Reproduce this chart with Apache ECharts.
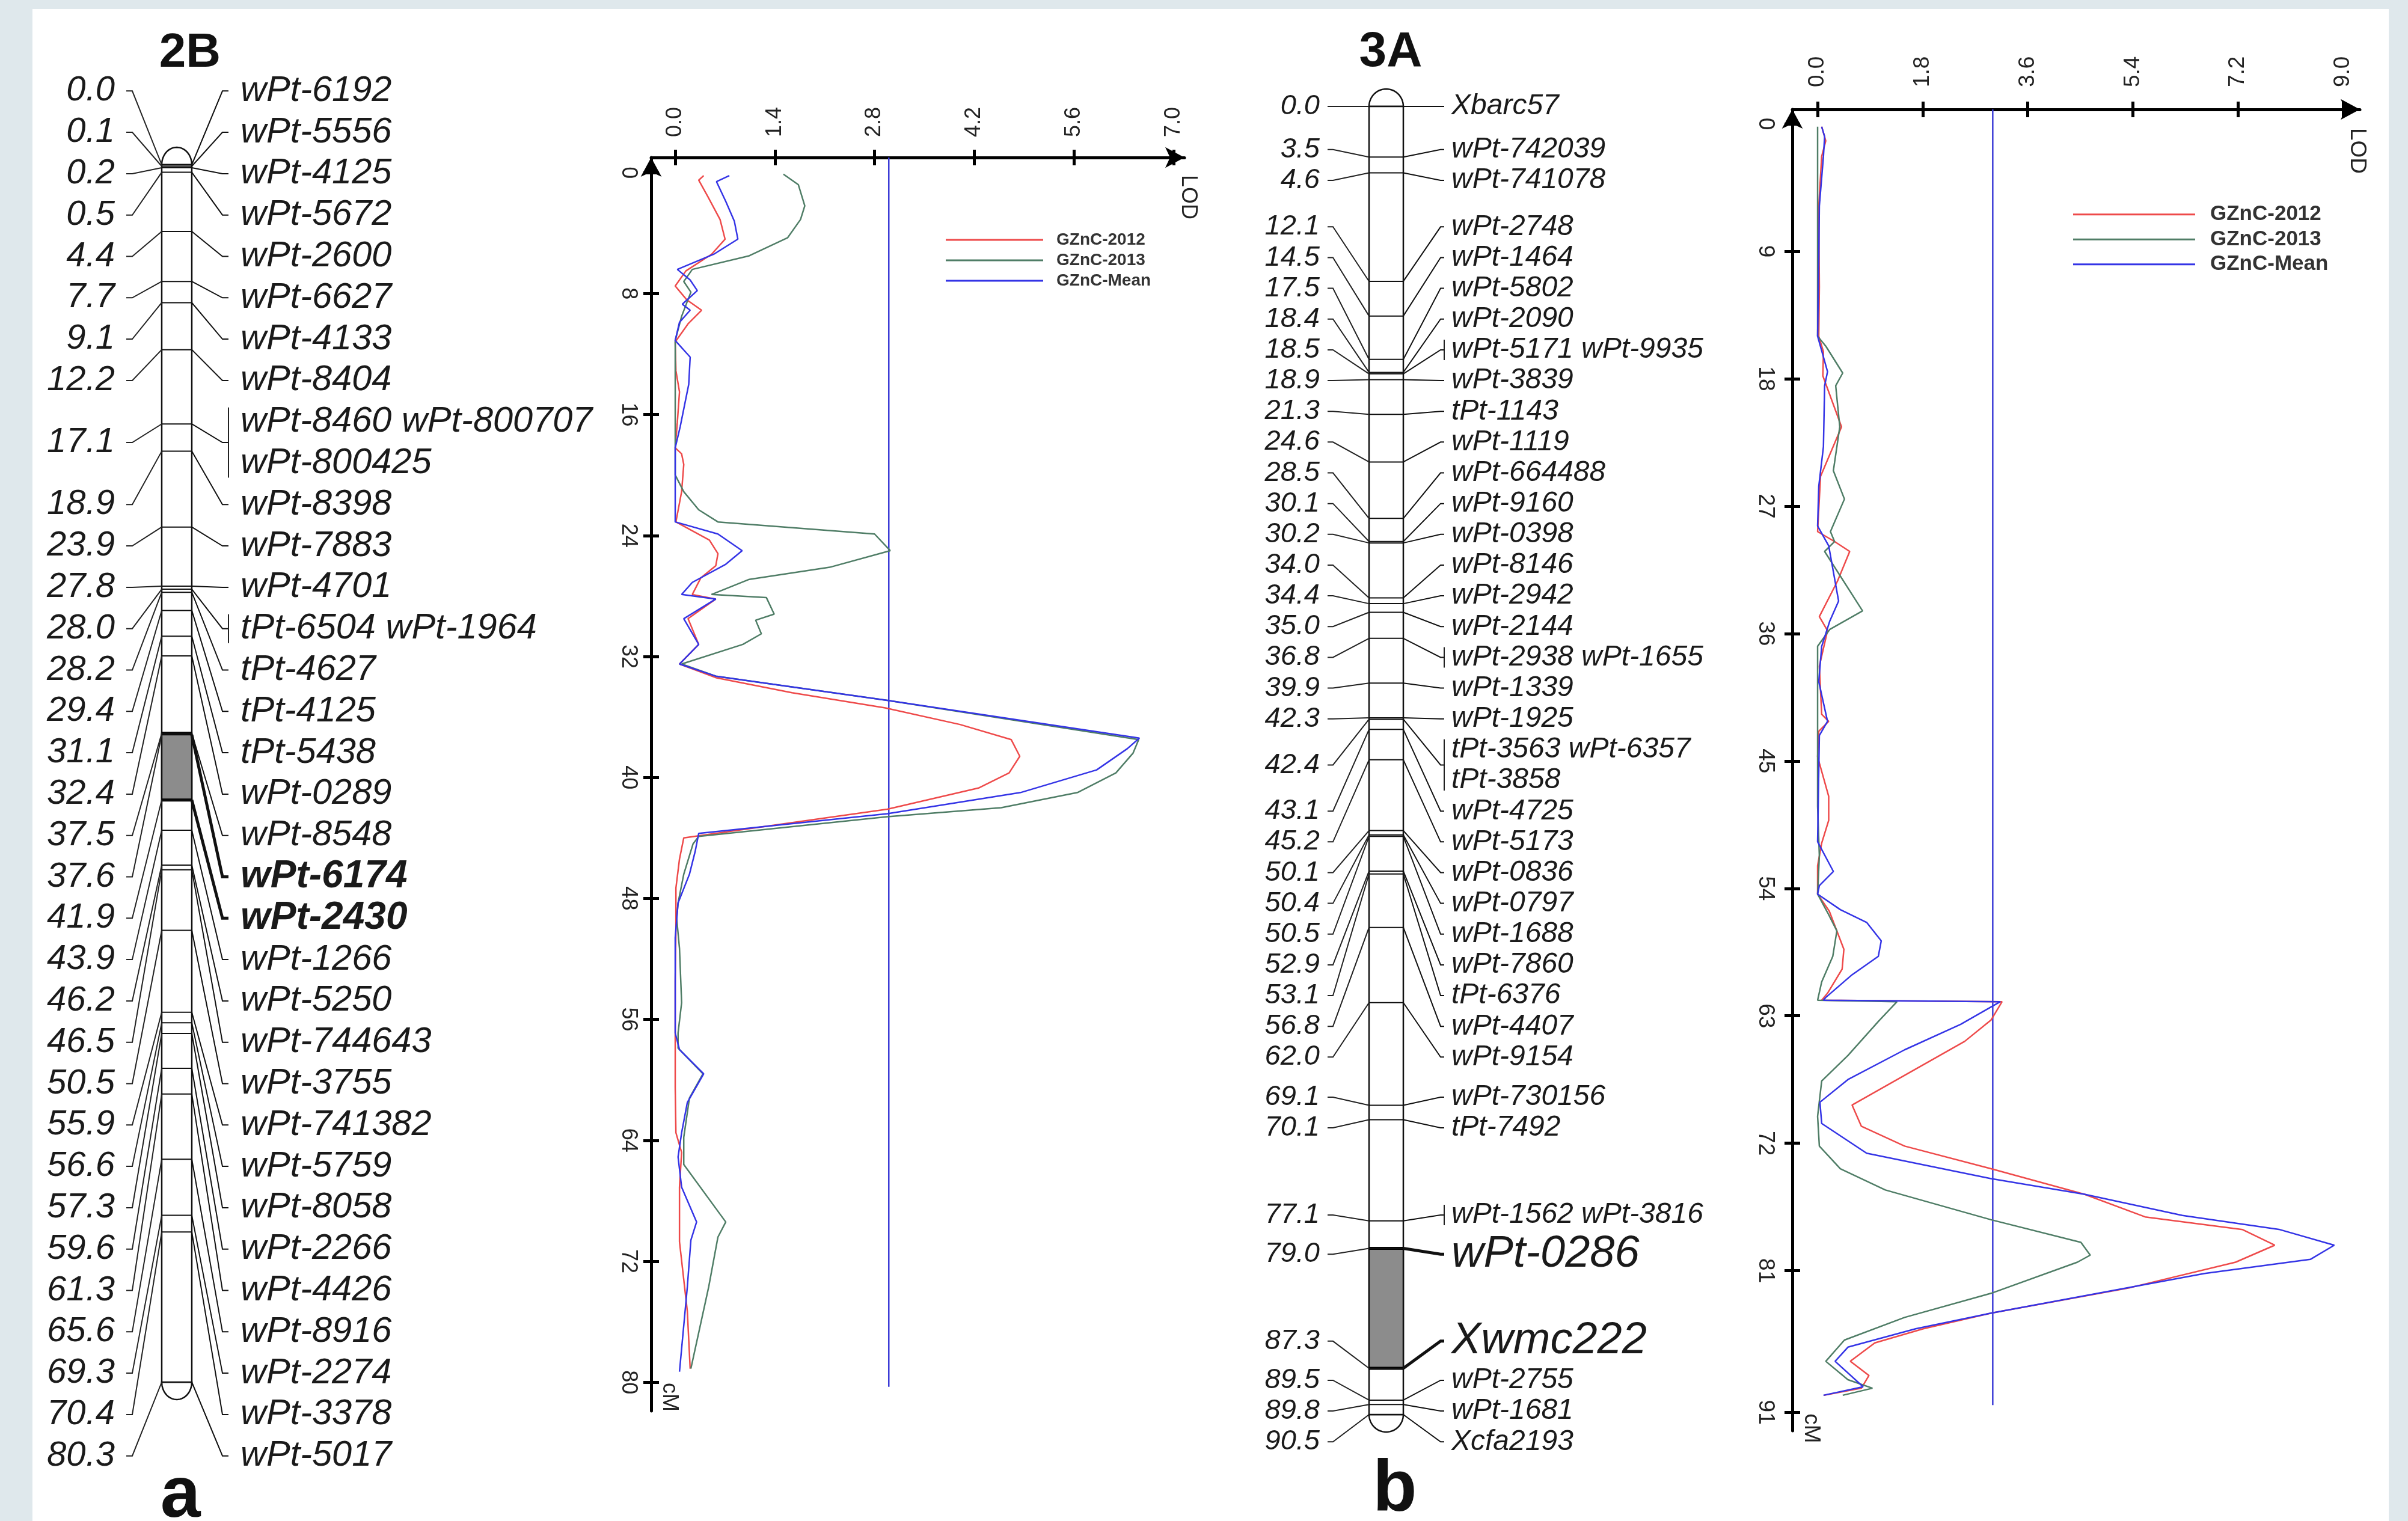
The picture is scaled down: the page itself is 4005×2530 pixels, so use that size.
<!DOCTYPE html>
<html>
<head>
<meta charset="utf-8">
<script src="https://cdn.jsdelivr.net/npm/echarts@6/dist/echarts.min.js"></script>
<style>
html, body { margin: 0; padding: 0; background: #dfe8ec; }
#panel { position: absolute; left: 54px; top: 15px; width: 3919px; height: 2515px; background: #fff; }
#main { position: absolute; left: 0; top: 0; width: 4005px; height: 2530px; }
</style>
</head>
<body>
<div id="panel"></div>
<div id="main"></div>
<script>
// ---- chromosome 2B (panel a) ----
const cm2B = [0.0, 0.1, 0.2, 0.5, 4.4, 7.7, 9.1, 12.2, 17.1, 18.9, 23.9, 27.8, 28.0, 28.2, 29.4, 31.1, 32.4,
  37.5, 37.6, 41.9, 43.9, 46.2, 46.5, 50.5, 55.9, 56.6, 57.3, 59.6, 61.3, 65.6, 69.3, 70.4, 80.3];
const names2B = [['wPt-6192'], ['wPt-5556'], ['wPt-4125'], ['wPt-5672'], ['wPt-2600'], ['wPt-6627'], ['wPt-4133'],
  ['wPt-8404'], ['wPt-8460 wPt-800707', 'wPt-800425'], ['wPt-8398'], ['wPt-7883'], ['wPt-4701'],
  ['tPt-6504 wPt-1964'], ['tPt-4627'], ['tPt-4125'], ['tPt-5438'], ['wPt-0289'], ['wPt-8548'], ['wPt-6174'],
  ['wPt-2430'], ['wPt-1266'], ['wPt-5250'], ['wPt-744643'], ['wPt-3755'], ['wPt-741382'], ['wPt-5759'],
  ['wPt-8058'], ['wPt-2266'], ['wPt-4426'], ['wPt-8916'], ['wPt-2274'], ['wPt-3378'], ['wPt-5017']];
const qtl2B = [37.5, 41.9];
const hi2B = ['wPt-6174', 'wPt-2430'];

// ---- chromosome 3A (panel b) ----
const cm3A = [0.0, 3.5, 4.6, 12.1, 14.5, 17.5, 18.4, 18.5, 18.9, 21.3, 24.6, 28.5, 30.1, 30.2, 34.0, 34.4, 35.0,
  36.8, 39.9, 42.3, 42.4, 43.1, 45.2, 50.1, 50.4, 50.5, 52.9, 53.1, 56.8, 62.0, 69.1, 70.1, 77.1, 79.0, 87.3,
  89.5, 89.8, 90.5];
const names3A = [['Xbarc57'], ['wPt-742039'], ['wPt-741078'], ['wPt-2748'], ['wPt-1464'], ['wPt-5802'],
  ['wPt-2090'], ['wPt-5171 wPt-9935'], ['wPt-3839'], ['tPt-1143'], ['wPt-1119'], ['wPt-664488'], ['wPt-9160'],
  ['wPt-0398'], ['wPt-8146'], ['wPt-2942'], ['wPt-2144'], ['wPt-2938 wPt-1655'], ['wPt-1339'], ['wPt-1925'],
  ['tPt-3563 wPt-6357', 'tPt-3858'], ['wPt-4725'], ['wPt-5173'], ['wPt-0836'], ['wPt-0797'], ['wPt-1688'],
  ['wPt-7860'], ['tPt-6376'], ['wPt-4407'], ['wPt-9154'], ['wPt-730156'], ['tPt-7492'], ['wPt-1562 wPt-3816'],
  ['wPt-0286'], ['Xwmc222'], ['wPt-2755'], ['wPt-1681'], ['Xcfa2193']];
const qtl3A = [79.0, 87.3];
const hi3A = ['wPt-0286', 'Xwmc222'];

// ---- LOD profiles, [cM, LOD] ----
const seriesNames = ['GZnC-2012', 'GZnC-2013', 'GZnC-Mean'];
const threshold = 3.0;

const lodA2012 = [[0.2,0.40],[0.5,0.33],[1.6,0.46],[3.1,0.63],[4.4,0.70],[5.4,0.51],[6.5,0.15],[7.5,0.0],[8.4,0.16],
  [9.1,0.37],[10.0,0.18],[11.2,0.0],[13.1,0.01],[14.5,0.06],[16.5,0.03],[18.2,0.0],[18.6,0.09],[19.3,0.12],[21.1,0.09],
  [23.1,0.01],[24.3,0.48],[25.2,0.60],[26.0,0.57],[26.8,0.36],[27.9,0.24],[28.2,0.57],[29.5,0.18],[31.2,0.33],[32.5,0.06],
  [33.4,0.57],[34.4,1.64],[35.4,2.95],[36.5,4.00],[37.5,4.72],[38.6,4.84],[39.7,4.69],[40.7,4.26],[42.1,2.98],[44.0,0.12],
  [45.4,0.06],[47.3,0.01],[50.0,0.01],[53.5,0.0],[57.2,0.0],[60.5,0.0],[63.5,0.01],[64.8,0.09],[67.1,0.06],[70.7,0.06],
  [75.3,0.17],[79.1,0.21]];
const lodA2013 = [[0.1,1.52],[0.8,1.73],[2.2,1.82],[3.1,1.76],[4.3,1.58],[5.5,1.04],[6.4,0.24],[7.2,0.12],[7.9,0.22],
  [9.5,0.09],[11.1,0.0],[20.0,0.0],[21.1,0.12],[22.3,0.33],[23.1,0.60],[23.9,2.80],[25.0,3.02],[26.1,2.17],[26.9,1.04],
  [27.9,0.51],[28.1,1.28],[29.2,1.39],[29.6,1.13],[30.5,1.21],[31.2,0.95],[32.5,0.09],[33.3,0.57],[34.9,2.98],[37.5,6.51],
  [38.4,6.43],[39.7,6.19],[41.0,5.65],[42.0,4.58],[42.6,2.98],[43.9,0.33],[44.4,0.25],[46.4,0.12],[48.3,0.04],[49.3,0.02],
  [51.3,0.06],[54.9,0.09],[56.9,0.04],[57.9,0.04],[59.6,0.39],[61.2,0.20],[63.8,0.12],[65.6,0.12],[69.4,0.71],[70.4,0.60],
  [73.7,0.47],[79.1,0.22]];
const lodAMean = [[0.2,0.76],[0.6,0.58],[1.9,0.71],[3.2,0.83],[4.4,0.88],[5.4,0.54],[6.4,0.03],[7.1,0.21],[7.8,0.31],
  [8.7,0.10],[9.1,0.21],[9.9,0.06],[11.1,0.0],[12.2,0.21],[14.0,0.19],[16.8,0.07],[18.2,0.0],[23.1,0.0],[23.9,0.60],
  [25.0,0.94],[25.9,0.71],[27.1,0.24],[27.9,0.09],[28.2,0.57],[29.5,0.12],[31.2,0.33],[32.5,0.06],[33.3,0.57],[34.9,2.98],
  [37.4,6.52],[38.1,6.35],[39.5,5.92],[41.0,4.85],[42.4,2.98],[43.7,0.33],[44.9,0.28],[46.4,0.20],[48.3,0.04],[50.6,0.0],
  [56.9,0.0],[58.0,0.06],[59.6,0.40],[61.5,0.17],[63.5,0.09],[65.1,0.04],[67.1,0.09],[69.4,0.30],[70.6,0.22],[73.7,0.17],
  [79.3,0.06]];

const lodB2012 = [[0.2,0.07],[1.2,0.14],[2.3,0.07],[5.8,0.02],[11.5,0.03],[15.0,0.02],[16.1,0.10],[17.8,0.09],[21.4,0.41],
  [24.9,0.05],[28.8,0.0],[29.5,0.29],[30.2,0.55],[32.3,0.34],[34.8,0.03],[35.8,0.17],[38.3,0.03],[41.7,0.07],[42.2,0.19],
  [42.9,0.02],[44.7,0.0],[47.5,0.19],[49.2,0.19],[50.8,0.07],[52.4,0.0],[54.4,0.0],[55.6,0.20],[58.3,0.45],[59.7,0.42],
  [61.4,0.17],[61.9,0.07],[62.0,3.16],[63.3,2.97],[64.8,2.52],[69.3,0.59],[70.8,0.75],[72.2,1.49],[73.8,2.97],[75.6,4.57],
  [77.2,5.61],[78.1,7.28],[79.2,7.83],[80.4,7.16],[82.2,5.35],[84.0,2.97],[85.1,1.81],[86.1,0.98],[87.4,0.56],[88.4,0.88],
  [89.3,0.75],[89.8,0.11]];
const lodB2013 = [[0.2,0.0],[15.0,0.0],[15.7,0.14],[17.6,0.43],[18.5,0.31],[21.4,0.38],[24.5,0.27],[26.5,0.46],[28.8,0.22],
  [29.5,0.29],[30.2,0.12],[34.4,0.77],[35.7,0.21],[36.9,0.0],[48.2,0.0],[51.7,0.03],[54.4,0.0],[55.7,0.17],[57.0,0.33],
  [58.8,0.26],[60.6,0.07],[61.9,0.0],[62.0,1.36],[63.4,1.04],[65.8,0.52],[67.6,0.07],[70.1,0.0],[72.2,0.03],[73.8,0.39],
  [75.3,1.16],[77.4,2.97],[79.0,4.51],[79.9,4.67],[80.4,4.45],[82.6,2.97],[84.3,1.49],[85.9,0.46],[87.4,0.14],[88.7,0.52],
  [89.3,0.94],[89.8,0.43]];
const lodBMean = [[0.2,0.07],[0.9,0.12],[2.3,0.10],[5.8,0.03],[9.4,0.02],[15.0,0.0],[17.5,0.17],[18.5,0.12],[22.8,0.10],
  [25.6,0.02],[28.4,0.0],[29.8,0.19],[33.7,0.36],[35.1,0.21],[36.9,0.07],[39.4,0.02],[42.2,0.17],[43.2,0.03],[50.7,0.0],
  [52.8,0.27],[53.8,0.03],[54.4,0.0],[55.5,0.39],[56.4,0.84],[57.7,1.09],[58.8,1.04],[60.1,0.59],[61.7,0.14],[61.9,0.10],
  [62.0,3.13],[63.6,2.45],[65.4,1.49],[67.5,0.52],[69.1,0.04],[70.6,0.07],[72.7,0.84],[74.5,2.97],[75.6,4.57],[77.1,6.25],
  [78.1,7.92],[79.2,8.85],[80.2,8.44],[81.2,6.63],[84.0,2.97],[85.1,1.68],[86.4,0.52],[87.4,0.30],[89.2,0.78],[89.8,0.10]];

const lodTicksA = [0, 1.4, 2.8, 4.2, 5.6, 7.0];
const cmTicksA = [0, 8, 16, 24, 32, 40, 48, 56, 64, 72, 80];
const lodTicksB = [0, 1.8, 3.6, 5.4, 7.2, 9.0];
const cmTicksB = [0, 9, 18, 27, 36, 45, 54, 63, 72, 81, 91];
const chromLenA = 80.3, chromLenB = 90.5;

// ---- styles ----
const FONT = '"Liberation Sans", Arial, sans-serif';
const colors = ['#ee4a4a', '#4f7d66', '#3434e6'];
const threshColor = '#3b3bd6';

const map2B = { lineH: 68.8, hiH: 68.8, font: 'italic 59.5px ' + FONT, numFont: 'italic 58px ' + FONT,
  hiFont: 'bold italic 64px ' + FONT, numGap: 78, stubA: 59, stubB: 49, rDiag: 51, rStub: 61, labGap: 81,
  brk: 24, capH: 29 };
const map3A = { lineH: 51.15, hiH: 79, font: 'italic 48px ' + FONT, numFont: 'italic 47px ' + FONT,
  hiFont: 'italic 74px ' + FONT, numGap: 82, stubA: 69, stubB: 60, rDiag: 62, rStub: 68, labGap: 80,
  brk: 17, capH: 29 };

// spread label rows so they do not overlap; clusters are centred on the span of their markers,
// overlaps are resolved from the bottom of the map upwards
function spread(desired, heights) {
  const pos = b => {
    let span = 0;
    for (let k = b.s; k < b.e; k++) span += (heights[k] + heights[k + 1]) / 2;
    b.first = (desired[b.s] + desired[b.e]) / 2 - span / 2;
    b.last = b.first + span;
    return b;
  };
  let blocks = desired.map((d, i) => pos({ s: i, e: i }));
  let again = true;
  while (again) {
    again = false;
    for (let j = blocks.length - 2; j >= 0; j--) {
      const a = blocks[j], b = blocks[j + 1];
      if (a.last + (heights[a.e] + heights[b.s]) / 2 > b.first + 0.01) {
        blocks.splice(j, 2, pos({ s: a.s, e: b.e }));
        again = true;
        break;
      }
    }
  }
  const ys = [];
  blocks.forEach(b => {
    let y = b.first;
    for (let k = b.s; k <= b.e; k++) {
      if (k > b.s) y += (heights[k - 1] + heights[k]) / 2;
      ys[k] = y;
    }
  });
  return ys;
}

function bodySeries(cfg, axisIdx, len, qtl) {
  return {
    type: 'custom', xAxisIndex: axisIdx, yAxisIndex: axisIdx, z: 3, silent: true, clip: false,
    data: [[0, len, qtl[0], qtl[1]]],
    renderItem: function (params, api) {
      const p0 = api.coord([0, api.value(0)]);
      const p1 = api.coord([1, api.value(1)]);
      const q0 = api.coord([0, api.value(2)])[1];
      const q1 = api.coord([0, api.value(3)])[1];
      const xL = p0[0], xR = p1[0], yT = p0[1], yB = p1[1];
      const cx = (xL + xR) / 2, rx = (xR - xL) / 2;
      const cap = (y, dir) => {
        const pts = [];
        for (let k = 0; k <= 30; k++) {
          const t = Math.PI * k / 30;
          pts.push([cx + rx * Math.cos(t), y + dir * cfg.capH * Math.sin(t)]);
        }
        return pts;
      };
      const st = { fill: '#fff', stroke: '#111', lineWidth: 2.5 };
      return { type: 'group', children: [
        { type: 'polygon', shape: { points: cap(yT, -1) }, style: st },
        { type: 'polygon', shape: { points: cap(yB, 1) }, style: st },
        { type: 'rect', shape: { x: xL, y: yT, width: xR - xL, height: yB - yT }, style: st },
        { type: 'rect', shape: { x: xL, y: q0, width: xR - xL, height: q1 - q0 },
          style: { fill: '#8c8c8c', stroke: '#111', lineWidth: 2.5 } },
        { type: 'line', shape: { x1: xL, y1: q0, x2: xR, y2: q0 }, style: { stroke: '#000', lineWidth: 5 } },
        { type: 'line', shape: { x1: xL, y1: q1, x2: xR, y2: q1 }, style: { stroke: '#000', lineWidth: 5 } }
      ] };
    }
  };
}

function markerSeries(cms, names, hi, cfg, axisIdx) {
  let ys = null, yMs = null;
  const isHi = k => names[k].some(s => hi.indexOf(s) >= 0);
  return {
    type: 'custom', xAxisIndex: axisIdx, yAxisIndex: axisIdx, z: 4, silent: true, clip: false,
    data: cms.map((c, i) => [0, c, i]),
    renderItem: function (params, api) {
      const i = api.value(2);
      if (i === 0 || !ys) {
        yMs = cms.map(c => api.coord([0, c])[1]);
        const hs = names.map((n, k) => isHi(k) ? cfg.hiH : n.length * cfg.lineH);
        ys = spread(yMs, hs);
      }
      const xL = api.coord([0, 0])[0], xR = api.coord([1, 0])[0];
      const yM = yMs[i], yL = ys[i], h = isHi(i);
      const n = names[i].length;
      const multi = n > 1 || names[i][0].indexOf(' ') >= 0;
      const kids = [
        { type: 'line', shape: { x1: xL, y1: yM, x2: xR, y2: yM }, style: { stroke: '#111', lineWidth: 2 } },
        { type: 'polyline', shape: { points: [[xL - cfg.stubA, yL], [xL - cfg.stubB, yL], [xL, yM]] },
          style: { stroke: '#222', lineWidth: 2, fill: null } },
        { type: 'text', x: xL - cfg.numGap, y: yL,
          style: { text: cms[i].toFixed(1), font: cfg.numFont, fill: '#1a1a1a', align: 'right', verticalAlign: 'middle' } },
        { type: 'polyline', shape: { points: [[xR, yM], [xR + cfg.rDiag, yL], [xR + cfg.rStub, yL]] },
          style: { stroke: '#111', lineWidth: h ? 5 : 2, fill: null } }
      ];
      if (multi) {
        const half = (n - 1) / 2 * cfg.lineH + cfg.brk;
        kids.push({ type: 'line', shape: { x1: xR + cfg.rStub, y1: yL - half, x2: xR + cfg.rStub, y2: yL + half },
          style: { stroke: '#222', lineWidth: 2 } });
      }
      names[i].forEach((s, k) => {
        kids.push({ type: 'text', x: xR + cfg.labGap, y: yL + (k - (n - 1) / 2) * cfg.lineH,
          style: { text: s, font: h ? cfg.hiFont : cfg.font, fill: '#1a1a1a', align: 'left', verticalAlign: 'middle' } });
      });
      return { type: 'group', children: kids };
    }
  };
}

function lodAxes(grid, min, max, ticks, fs, margin) {
  const tickStyle = { color: '#000', width: 5 };
  return [
    { gridIndex: grid, type: 'value', position: 'top', min: min, max: max,
      axisLine: { show: true, onZero: false, lineStyle: { color: '#000', width: 5 },
        symbol: ['none', 'arrow'], symbolSize: [26, 32] },
      axisTick: { show: true, customValues: ticks, length: 13, lineStyle: tickStyle },
      axisLabel: { show: true, customValues: ticks, interval: 0, rotate: -90, margin: margin, fontSize: fs,
        fontFamily: FONT, color: '#222', formatter: v => v.toFixed(1) },
      splitLine: { show: false } },
    { gridIndex: grid, type: 'value', position: 'top', min: min, max: max,
      axisLine: { show: false, onZero: false },
      axisTick: { show: true, inside: true, customValues: ticks, length: 13, lineStyle: tickStyle },
      axisLabel: { show: false }, splitLine: { show: false } }
  ];
}
function cmAxes(grid, min, max, ticks, fs, margin) {
  const tickStyle = { color: '#000', width: 5 };
  return [
    { gridIndex: grid, type: 'value', position: 'left', inverse: true, min: min, max: max,
      axisLine: { show: true, onZero: false, lineStyle: { color: '#000', width: 5 },
        symbol: ['none', 'arrow'], symbolSize: [26, 32] },
      axisTick: { show: true, customValues: ticks, length: 13, lineStyle: tickStyle },
      axisLabel: { show: true, customValues: ticks, interval: 0, rotate: -90, margin: margin, fontSize: fs,
        fontFamily: FONT, color: '#222' },
      splitLine: { show: false } },
    { gridIndex: grid, type: 'value', position: 'left', inverse: true, min: min, max: max,
      axisLine: { show: false, onZero: false },
      axisTick: { show: true, inside: true, customValues: ticks, length: 13, lineStyle: tickStyle },
      axisLabel: { show: false }, splitLine: { show: false } }
  ];
}
const hidden = (grid, min, max, inv) => ({ gridIndex: grid, type: 'value', min: min, max: max, inverse: !!inv, show: false });

function lodSeries(name, data, color, axisIdx) {
  return { name: name, type: 'line', xAxisIndex: axisIdx, yAxisIndex: axisIdx, symbol: 'none', z: 5,
    data: data.map(p => [p[1], p[0]]), lineStyle: { color: color, width: 2.5 }, itemStyle: { color: color } };
}
function threshSeries(axisIdx, top, len) {
  return { name: 'threshold', type: 'line', xAxisIndex: axisIdx, yAxisIndex: axisIdx, symbol: 'none', z: 4,
    data: [[threshold, top], [threshold, len]], lineStyle: { color: threshColor, width: 2.5 } };
}

const chart = echarts.init(document.getElementById('main'), null, { renderer: 'canvas' });
const txt = (x, y, text, font, rot, color) => ({ type: 'text', x: x, y: y, rotation: rot || 0, z: 10,
  style: { text: text, font: font, fill: color || '#111', align: 'center', verticalAlign: 'middle' } });

chart.setOption({
  animation: false,
  backgroundColor: 'transparent',
  color: colors,
  grid: [
    { left: 1083, top: 262, width: 887, height: 2085 },
    { left: 2981, top: 182, width: 944, height: 2198 },
    { left: 269, top: 274, width: 50, height: 2025 },
    { left: 2277, top: 177, width: 57, height: 2176 }
  ],
  xAxis: [].concat(
    lodAxes(0, -0.338, 7.153, lodTicksA, 36, 34),
    lodAxes(1, -0.433, 9.289, lodTicksB, 37, 37),
    [hidden(2, 0, 1), hidden(3, 0, 1)]
  ),
  yAxis: [].concat(
    cmAxes(0, -1.0, 81.9, cmTicksA, 36, 20),
    cmAxes(1, -1.02, 92.31, cmTicksB, 37, 26),
    [hidden(2, 0, chromLenA, true), hidden(3, 0, chromLenB, true)]
  ),
  legend: [
    { data: seriesNames, orient: 'vertical', left: 1568, top: 377, itemWidth: 162, itemHeight: 3, itemGap: 0,
      icon: 'rect', selectedMode: false,
      textStyle: { fontFamily: FONT, fontSize: 28, fontWeight: 'bold', color: '#333', lineHeight: 34, padding: [0, 0, 0, 17] } },
    { data: seriesNames, orient: 'vertical', left: 3443, top: 331, itemWidth: 203, itemHeight: 3, itemGap: 0,
      icon: 'rect', selectedMode: false,
      textStyle: { fontFamily: FONT, fontSize: 35, fontWeight: 'bold', color: '#333', lineHeight: 41.5, padding: [0, 0, 0, 20] } }
  ],
  graphic: [
    txt(316, 89, '2B', 'bold 80px ' + FONT),
    txt(2313, 87, '3A', 'bold 82px ' + FONT),
    txt(300, 2490, 'a', 'bold 120px ' + FONT),
    txt(2320, 2480, 'b', 'bold 120px ' + FONT),
    txt(1976, 328, 'LOD', '36px ' + FONT, -Math.PI / 2, '#222'),
    txt(1113, 2324, 'cM', '36px ' + FONT, -Math.PI / 2, '#222'),
    txt(3920, 251, 'LOD', '37px ' + FONT, -Math.PI / 2, '#222'),
    txt(3012, 2376, 'cM', '37px ' + FONT, -Math.PI / 2, '#222')
  ],
  series: [
    bodySeries(map2B, 4, chromLenA, qtl2B),
    markerSeries(cm2B, names2B, hi2B, map2B, 4),
    bodySeries(map3A, 5, chromLenB, qtl3A),
    markerSeries(cm3A, names3A, hi3A, map3A, 5),
    threshSeries(0, -1.0, chromLenA),
    lodSeries(seriesNames[0], lodA2012, colors[0], 0),
    lodSeries(seriesNames[1], lodA2013, colors[1], 0),
    lodSeries(seriesNames[2], lodAMean, colors[2], 0),
    threshSeries(2, -1.02, chromLenB),
    lodSeries(seriesNames[0], lodB2012, colors[0], 2),
    lodSeries(seriesNames[1], lodB2013, colors[1], 2),
    lodSeries(seriesNames[2], lodBMean, colors[2], 2)
  ]
});
</script>
</body>
</html>
